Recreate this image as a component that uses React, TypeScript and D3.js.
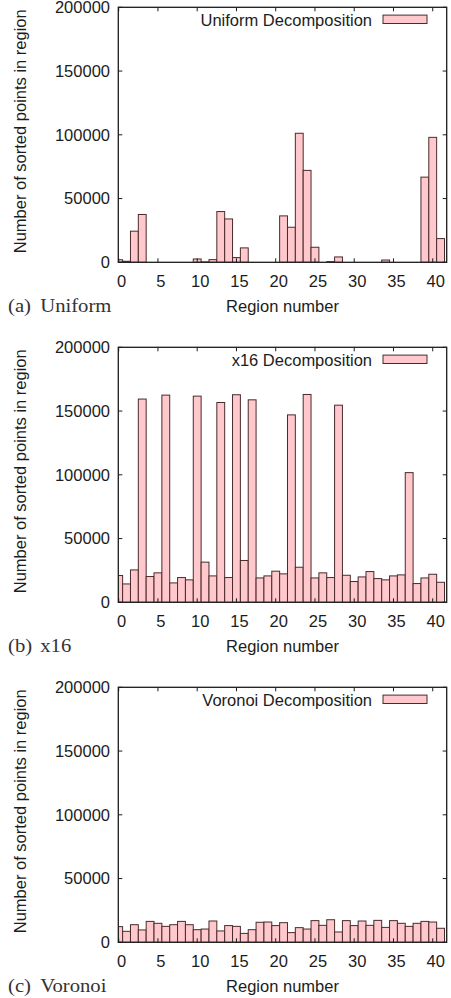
import React from "react";
import * as d3 from "d3";

const regions: number[] = d3.range(0, 42);

const uniformValues: number[] = [
  2000, 800, 24400, 37500, 0, 0, 0, 0, 0, 0,
  2600, 300, 2100, 39800, 34000, 3700, 11300, 0, 0, 0,
  0, 36400, 27500, 101200, 72100, 11800, 0, 500, 4200, 0,
  0, 0, 0, 0, 1800, 0, 0, 0, 0, 66800,
  98000, 18600,
];

const x16Values: number[] = [
  21000, 14400, 25400, 159400, 20200, 23100, 162500, 15200, 19400, 17600,
  161700, 31500, 20700, 156700, 19400, 162800, 32800, 158800, 19100, 20700,
  24400, 22300, 147000, 27500, 163000, 19100, 23100, 19400, 154600, 21200,
  16300, 19900, 24100, 18600, 17600, 20700, 21500, 101700, 14700, 19100,
  22000, 15700,
];

const voronoiValues: number[] = [
  12300, 8600, 13800, 9700, 16400, 14900, 12500, 13800, 16400, 13800,
  9900, 10400, 16700, 8900, 13100, 12500, 7000, 9900, 15700, 15900,
  13100, 15400, 7600, 11500, 10400, 17000, 13300, 17700, 8100, 17000,
  13100, 16700, 13300, 17200, 11700, 17000, 14900, 12500, 14900, 16400,
  15900, 11000,
];

const legendLabels: string[] = ["Uniform Decomposition", "x16 Decomposition", "Voronoi Decomposition"];
const captionTags: string[] = ["(a)", "(b)", "(c)"];
const captionNames: string[] = ["Uniform", "x16", "Voronoi"];
const xTicks: number[] = [0, 5, 10, 15, 20, 25, 30, 35, 40];
const yTicks: number[] = [0, 50000, 100000, 150000, 200000];

const seriesList = [uniformValues, x16Values, voronoiValues];

const W = 451;
const H = 998;
const plotLeft = 118.3;
const plotRight = 446.7;
const panelStep = 340;
const firstTop = 7.3;
const plotHeight = 255;

const FILL = "#ffc8cc";
const EDGE = "#4a2b2b";
const INK = "#1c1c1c";
const SANS = "'Liberation Sans', Arial, Helvetica, sans-serif";
const SERIF = "'Liberation Serif', 'Times New Roman', serif";

function Panel({ idx }: { idx: number }) {
  const top = firstTop + idx * panelStep;
  const bottom = top + plotHeight;
  const values = seriesList[idx];
  const x = d3.scaleLinear().domain([-0.05, 41.78]).range([plotLeft, plotRight]);
  const y = d3.scaleLinear().domain([0, 200000]).range([bottom, top]);
  const clipId = `clip-${idx}`;
  const tick = 4;
  return (
    <g>
      <defs>
        <clipPath id={clipId}>
          <rect x={plotLeft} y={top} width={plotRight - plotLeft} height={plotHeight} />
        </clipPath>
      </defs>
      <g clipPath={`url(#${clipId})`}>
        {regions.map((r, i) => {
          const x0 = x(r - 0.5);
          const x1 = x(r + 0.5);
          const v = values[i];
          return (
            <rect
              key={r}
              x={x0}
              y={y(v)}
              width={x1 - x0}
              height={Math.max(0, y(0) - y(v))}
              fill={FILL}
              stroke={EDGE}
              strokeWidth={1}
            />
          );
        })}
      </g>
      {/* ticks */}
      {yTicks.map((t) => (
        <g key={`y${t}`}>
          <line x1={plotLeft} x2={plotLeft + tick} y1={y(t)} y2={y(t)} stroke={INK} strokeWidth={1} />
          <line x1={plotRight} x2={plotRight - tick} y1={y(t)} y2={y(t)} stroke={INK} strokeWidth={1} />
          <text
            x={110}
            y={y(t)}
            dy="0.36em"
            textAnchor="end"
            fontFamily={SANS}
            fontSize={16.5}
            fill={INK}
          >
            {t}
          </text>
        </g>
      ))}
      {xTicks.map((t) => (
        <g key={`x${t}`}>
          <line x1={x(t)} x2={x(t)} y1={bottom} y2={bottom - tick} stroke={INK} strokeWidth={1} />
          <line x1={x(t)} x2={x(t)} y1={top} y2={top + tick} stroke={INK} strokeWidth={1} />
          <text
            x={x(t) + 3}
            y={bottom + 25}
            textAnchor="middle"
            fontFamily={SANS}
            fontSize={16.5}
            fill={INK}
          >
            {t}
          </text>
        </g>
      ))}
      <rect
        x={plotLeft}
        y={top}
        width={plotRight - plotLeft}
        height={plotHeight}
        fill="none"
        stroke={INK}
        strokeWidth={1.3}
      />
      {/* legend */}
      <text
        x={372}
        y={top + 12.8}
        dy="0.36em"
        textAnchor="end"
        fontFamily={SANS}
        fontSize={16.5}
        fill={INK}
      >
        {legendLabels[idx]}
      </text>
      <rect x={383} y={top + 7.8} width={44} height={8.4} fill={FILL} stroke={EDGE} strokeWidth={1} />
      {/* axis titles */}
      <text
        x={(plotLeft + plotRight) / 2}
        y={bottom + 50}
        textAnchor="middle"
        fontFamily={SANS}
        fontSize={16.5}
        fill={INK}
      >
        Region number
      </text>
      <text
        transform={`translate(25.7, ${top + 124}) rotate(-90)`}
        textAnchor="middle"
        fontFamily={SANS}
        fontSize={16.5}
        fill={INK}
      >
        Number of sorted points in region
      </text>
      {/* caption */}
      <g transform={`translate(8, ${bottom + 50}) scale(1.15, 1)`}>
        <text x={0} y={0} fontFamily={SERIF} fontSize={18} fill="#333">
          {captionTags[idx]}
        </text>
        <text x={28} y={0} fontFamily={SERIF} fontSize={18} fill="#333">
          {captionNames[idx]}
        </text>
      </g>
    </g>
  );
}

export default function App() {
  return (
    <svg
      width={W}
      height={H}
      viewBox={`0 0 ${W} ${H}`}
      style={{ position: "absolute", left: 0, top: 0, background: "#fff" }}
    >
      <rect x={0} y={0} width={W} height={H} fill="#fff" />
      {[0, 1, 2].map((i) => (
        <Panel key={i} idx={i} />
      ))}
    </svg>
  );
}
